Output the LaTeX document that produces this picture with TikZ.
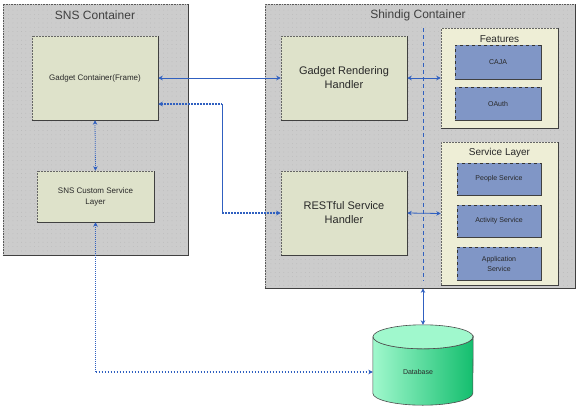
\documentclass[tikz,border=0pt]{standalone}
\usepackage{fontspec}
\setmainfont{Liberation Sans}
\usetikzlibrary{arrows.meta,calc,patterns.meta}
\definecolor{contgray}{RGB}{204,204,204}
\definecolor{boxfill}{RGB}{222,226,202}
\definecolor{featfill}{RGB}{238,238,214}
\definecolor{bluebox}{RGB}{128,150,198}
\definecolor{conblue}{RGB}{48,96,192}
\definecolor{txt}{RGB}{40,40,40}
\definecolor{dblight}{RGB}{160,248,205}
\definecolor{dbdark}{RGB}{20,190,110}
\begin{document}
\begin{tikzpicture}[x=1pt,y=-1pt,
  sz/.style 2 args={minimum width=#1pt,minimum height=#2pt,inner sep=0pt},
  container/.style={draw=black!65,densely dotted,line width=0.6pt,
    preaction={fill=contgray},
    pattern={Dots[distance=4.3pt,radius=0.35pt]},pattern color=black!30},
  gbox/.style={draw=black!60,densely dotted,line width=0.5pt,fill=boxfill,
    text=txt,align=center},
  fbox/.style={draw=black!60,densely dotted,line width=0.5pt,fill=featfill},
  bbox/.style={draw=black!80,dashed,line width=0.5pt,fill=bluebox,
    text=txt,align=center,font=\fontsize{7}{9}\selectfont},
  title/.style={text=black!75,font=\fontsize{12}{14}\selectfont},
  subtitle/.style={text=txt,font=\fontsize{10}{12}\selectfont},
  shadowline/.style={draw=black!75,line width=0.9pt},
  >={Stealth[length=4.5pt,width=4.5pt]},
  conn/.style={draw=conblue,line width=0.8pt,<->},
  hdot/.style={draw=conblue,line width=1.3pt,dash pattern=on 1.8pt off 1.2pt},
  vdot/.style={draw=conblue,line width=0.8pt,dash pattern=on 1pt off 1pt},
  vline/.style={draw=conblue,line width=0.8pt},
]
\useasboundingbox (0,0) rectangle (578,410);

% containers
\node[container,sz={185}{251}] (sns) at (95.5,129.5) {};
\node[container,sz={310}{284}] (shindig) at (420,146) {};
\node[title] (snst) at (95,15) {SNS Container};
\node[title] (shit) at (418,15) {Shindig Container};

% divider
\coordinate (div1) at (423,28);
\coordinate (div2) at (423,281);
\draw[conblue,line width=0.6pt,dash pattern=on 4pt off 3pt] (div1) -- (div2);

% SNS boxes
\node[gbox,sz={126}{84},font=\fontsize{8}{10}\selectfont] (gc) at (95,78) {Gadget Container(Frame)};
\node[gbox,sz={117}{51},font=\fontsize{8}{11}\selectfont] (scs) at (95.5,196.5) {SNS Custom Service\\Layer};

% Shindig handlers
\node[gbox,sz={126}{84},font=\fontsize{11}{14}\selectfont] (grh) at (344,78) {Gadget Rendering\\Handler};
\node[gbox,sz={126}{84},font=\fontsize{11}{14}\selectfont] (rsh) at (344,213) {RESTful Service\\Handler};

% Features
\node[fbox,sz={117}{100}] (feat) at (499.5,78) {};
\node[subtitle] (featt) at (499.5,39) {Features};
\node[bbox,sz={86}{34}] (caja) at (498,62) {CAJA};
\node[bbox,sz={86}{33}] (oauth) at (498,103.5) {OAuth};

% Service layer
\node[fbox,sz={117}{143}] (sl) at (499.5,213.5) {};
\node[subtitle] (slt) at (499.5,153) {Service Layer};
\node[bbox,sz={84}{32}] (ps) at (499,179) {People Service};
\node[bbox,sz={84}{32}] (acs) at (499,221) {Activity Service};
\node[bbox,sz={84}{33},font=\fontsize{7}{10}\selectfont] (aps) at (499,263.5) {Application\\Service};

% shadow edges
\foreach \n in {sns,shindig,gc,scs,grh,rsh,feat,sl,caja,oauth,ps,acs,aps}
  \draw[shadowline] (\n.south west) -- (\n.south east) -- (\n.north east);

% database
\node[sz={100}{80}] (db) at (423,365) {};
\shade[left color=dblight,right color=dbdark,draw=black!70,line width=0.6pt]
  ($(db.north west)+(0,12)$) -- ($(db.south west)+(0,-12)$)
  arc[start angle=180,end angle=360,x radius=50pt,y radius=12pt]
  -- ($(db.north east)+(0,12)$)
  arc[start angle=0,end angle=-180,x radius=50pt,y radius=12pt] -- cycle;
\draw[fill=dblight,draw=black!70,line width=0.6pt] ($(db.north)+(0,12)$) ellipse[x radius=50pt,y radius=12pt];
\node[text=txt,font=\fontsize{7}{9}\selectfont] (dbt) at (418,372) {Database};

% connectors
\draw[conn] (gc.east) -- (grh.west);
\coordinate (bend) at (222,104);
\coordinate (bend2) at (bend |- rsh.west);
\draw[hdot,<-] (gc.east |- bend) -- (bend);
\draw[vline] (bend) -- (bend2);
\draw[hdot,->] (bend2) -- (rsh.west);
\draw[vdot,<->] (gc.south) -- (scs.north);
\draw[conn] (grh.east) -- (feat.west);
\draw[conn] (rsh.east) -- (sl.west);
\coordinate (dbin) at ($(db.west)+(0,7)$);
\coordinate (corner) at (scs.south |- dbin);
\draw[vdot,<-] (scs.south) -- (corner);
\draw[hdot,->] (corner) -- (dbin);
\draw[conn] (db.north |- shindig.south) -- (db.north);
\end{tikzpicture}
\end{document}
